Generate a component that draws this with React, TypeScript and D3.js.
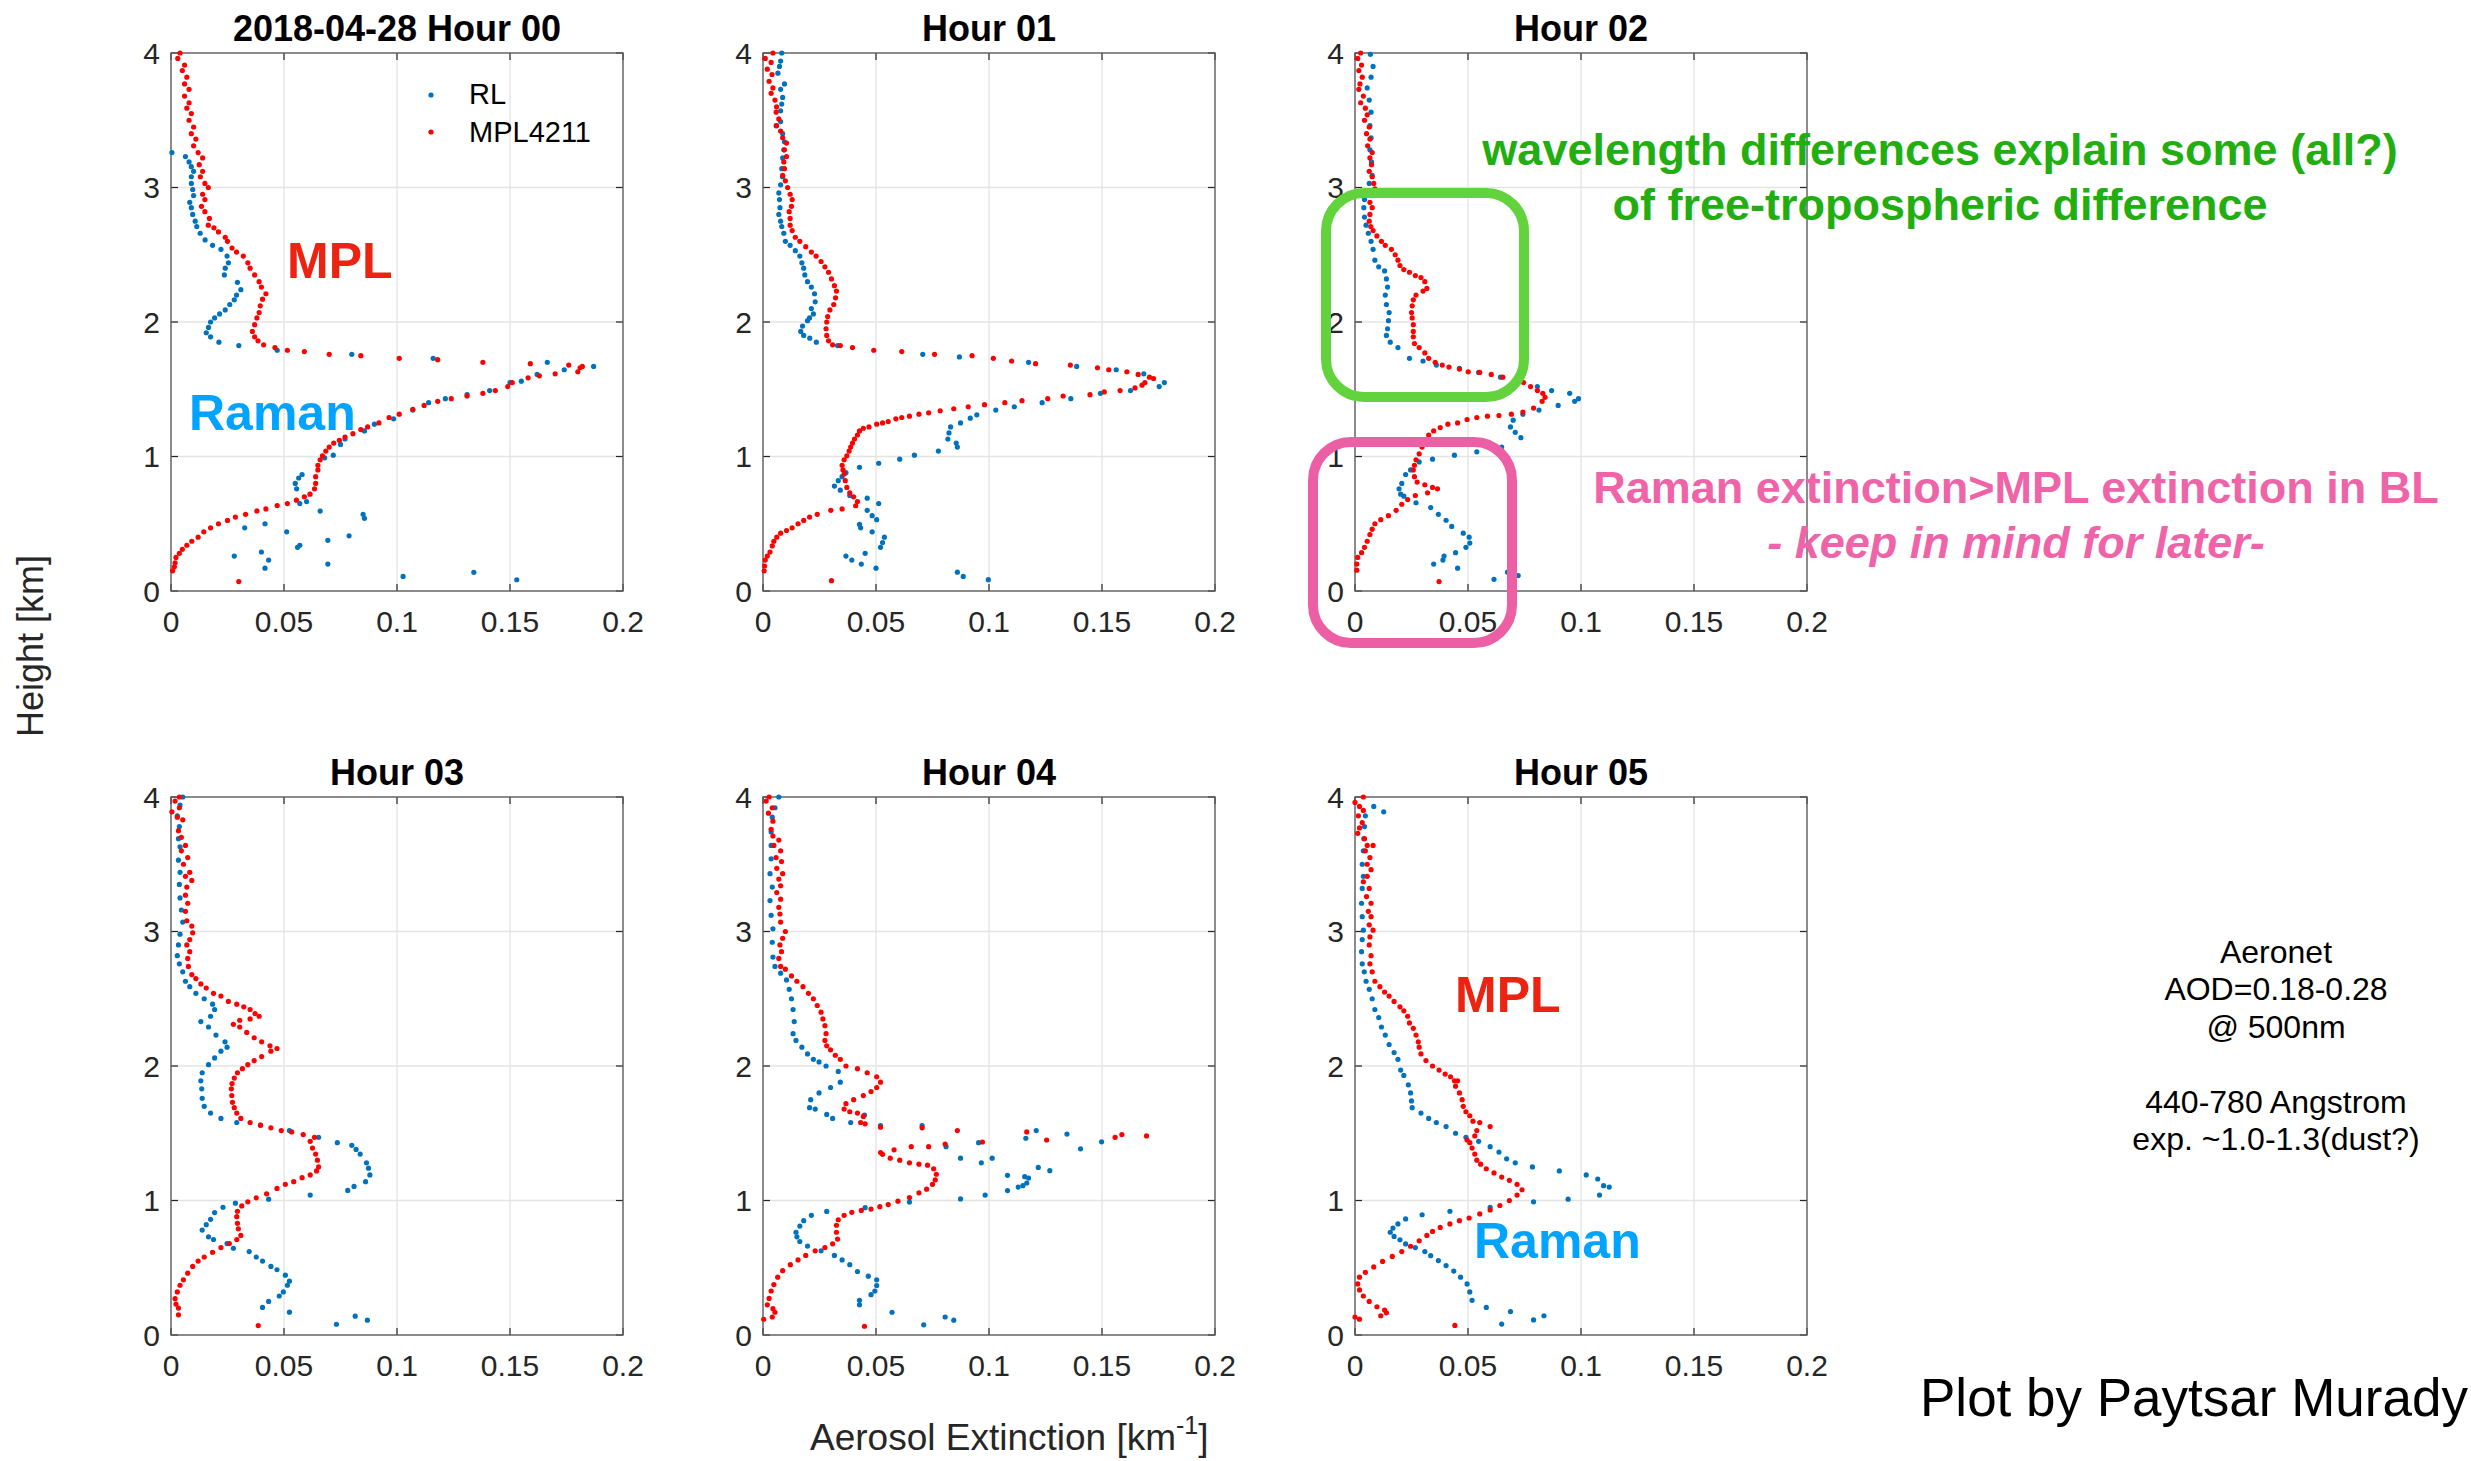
import React from 'react';
import * as d3 from 'd3';

// ---------- axis ticks / labels ----------
const xTickValues = [0, 0.05, 0.1, 0.15, 0.2];
const xTickLabels = ['0', '0.05', '0.1', '0.15', '0.2'];
const yTickValues = [0, 1, 2, 3, 4];
const yTickLabels = ['0', '1', '2', '3', '4'];
const panelTitles = ['2018-04-28 Hour 00', 'Hour 01', 'Hour 02', 'Hour 03', 'Hour 04', 'Hour 05'];
const seriesNames = ['RL', 'MPL4211'];

// ---------- data: [height km, extinction km^-1] ----------
const mpl00 = [[4.0,.004],[3.96,.003],[3.91,.006],[3.87,.005],[3.82,.007],[3.77,.006],[3.73,.008],[3.68,.006],[3.63,.008],[3.59,.007],[3.55,.009],[3.50,.008],[3.45,.010],[3.40,.009],[3.36,.011],[3.31,.010],[3.26,.012],[3.22,.014],[3.17,.0125],[3.12,.014],[3.08,.013],[3.03,.015],[3.00,.0165],[2.95,.014],[2.91,.015],[2.86,.0135],[2.82,.015],[2.77,.017],[2.72,.0165],[2.70,.019],[2.67,.021],[2.63,.024],[2.60,.025],[2.55,.027],[2.52,.029],[2.49,.032],[2.44,.034],[2.40,.035],[2.35,.037],[2.30,.039],[2.26,.040],[2.21,.042],[2.17,.0405],[2.12,.0395],[2.07,.039],[2.03,.038],[1.98,.037],[1.93,.036],[1.89,.037],[1.86,.0385],[1.83,.041],[1.81,.046],[1.79,.0515],[1.78,.059],[1.76,.070],[1.75,.084],[1.73,.101],[1.72,.118],[1.70,.138],[1.69,.159],[1.68,.176],[1.67,.182],[1.66,.181],[1.63,.180],[1.615,.170],[1.60,.163],[1.585,.158],[1.55,.151],[1.52,.149],[1.49,.1435],[1.47,.138],[1.45,.131],[1.43,.124],[1.41,.118],[1.38,.112],[1.35,.107],[1.315,.101],[1.29,.0965],[1.25,.092],[1.22,.087],[1.20,.084],[1.17,.0805],[1.145,.077],[1.12,.0745],[1.10,.072],[1.07,.070],[1.04,.0685],[1.005,.067],[.975,.066],[.935,.065],[.90,.065],[.85,.064],[.80,.064],[.76,.0635],[.72,.0615],[.70,.059],[.675,.0555],[.65,.0515],[.635,.047],[.61,.042],[.595,.038],[.57,.033],[.55,.0285],[.525,.025],[.50,.021],[.47,.0175],[.44,.0145],[.40,.012],[.37,.0092],[.34,.007],[.31,.005],[.28,.0037],[.25,.0022],[.21,.0018],[.18,.0015],[.15,.0007],[.07,.030]];
const rl00 = [[3.26,.0004],[3.23,.0064],[3.19,.008],[3.155,.009],[3.12,.010],[3.08,.009],[3.03,.009],[2.985,.0096],[2.94,.010],[2.89,.0083],[2.85,.009],[2.80,.0096],[2.75,.0107],[2.71,.0114],[2.66,.0129],[2.61,.0151],[2.57,.0184],[2.54,.0221],[2.49,.0248],[2.44,.0254],[2.40,.024],[2.35,.0236],[2.295,.0294],[2.24,.0309],[2.20,.029],[2.165,.028],[2.13,.026],[2.09,.024],[2.06,.0215],[2.03,.0193],[2.00,.0175],[1.96,.0166],[1.92,.0156],[1.89,.0175],[1.85,.0212],[1.825,.030],[1.79,.047],[1.76,.080],[1.73,.116],[1.70,.1665],[1.67,.187],[1.645,.174],[1.61,.162],[1.56,.155],[1.55,.150],[1.49,.141],[1.46,.131],[1.43,.1214],[1.40,.114],[1.345,.107],[1.28,.0985],[1.24,.090],[1.19,.0856],[1.13,.077],[1.09,.075],[1.01,.0718],[.99,.068],[.866,.058],[.84,.0565],[.80,.055],[.76,.0556],[.665,.060],[.65,.057],[.594,.066],[.57,.085],[.54,.0856],[.50,.0416],[.47,.0326],[.44,.0512],[.41,.0788],[.377,.0694],[.34,.057],[.325,.056],[.29,.040],[.26,.028],[.23,.0432],[.20,.0694],[.17,.0416],[.139,.134],[.108,.1027],[.0835,.153]];

const mpl01 = [[4.0,.0044],[3.96,.001],[3.93,.0036],[3.88,.0019],[3.84,.004],[3.79,.0027],[3.74,.0044],[3.70,.0036],[3.65,.0053],[3.60,.006],[3.56,.0058],[3.51,.007],[3.46,.006],[3.42,.0078],[3.37,.0087],[3.33,.0104],[3.28,.0095],[3.23,.0104],[3.19,.0092],[3.14,.0095],[3.09,.0087],[3.05,.0099],[3.00,.0109],[2.95,.012],[2.91,.0129],[2.86,.0126],[2.82,.0116],[2.77,.012],[2.72,.012],[2.68,.0129],[2.63,.0143],[2.60,.0163],[2.56,.0189],[2.52,.0214],[2.49,.0235],[2.45,.0257],[2.41,.0274],[2.37,.029],[2.32,.0303],[2.27,.0316],[2.23,.0325],[2.18,.0321],[2.13,.0313],[2.09,.0296],[2.04,.0286],[2.00,.0282],[1.95,.0279],[1.90,.0282],[1.86,.029],[1.83,.0308],[1.825,.0342],[1.81,.0396],[1.79,.049],[1.78,.0614],[1.76,.0759],[1.75,.0925],[1.73,.1019],[1.71,.110],[1.69,.1206],[1.68,.136],[1.66,.148],[1.645,.153],[1.63,.161],[1.61,.166],[1.59,.171],[1.58,.1728],[1.55,.169],[1.53,.1677],[1.51,.1646],[1.49,.158],[1.48,.151],[1.46,.1447],[1.45,.1328],[1.43,.126],[1.415,.1146],[1.40,.107],[1.385,.098],[1.37,.0908],[1.355,.0844],[1.34,.0784],[1.325,.0733],[1.315,.069],[1.30,.0648],[1.29,.0614],[1.28,.0588],[1.26,.0554],[1.25,.0529],[1.24,.0503],[1.22,.0469],[1.21,.0444],[1.19,.0427],[1.16,.0418],[1.13,.0405],[1.10,.0396],[1.07,.0388],[1.04,.0381],[1.005,.0371],[.975,.0359],[.935,.035],[.90,.0354],[.87,.0359],[.82,.0364],[.77,.0371],[.73,.0384],[.70,.0401],[.665,.0418],[.634,.041],[.61,.035],[.60,.030],[.57,.024],[.55,.0206],[.525,.018],[.50,.0155],[.47,.0129],[.45,.0104],[.43,.0078],[.40,.0061],[.37,.0048],[.335,.0041],[.29,.0031],[.26,.0019],[.23,.001],[.186,.0007],[.15,.0005],[.077,.0303]];
const rl01 = [[4.0,.0083],[3.94,.0078],[3.90,.0073],[3.85,.0066],[3.77,.0095],[3.73,.0078],[3.67,.0087],[3.62,.0083],[3.57,.0078],[3.49,.0078],[3.46,.0058],[3.40,.0087],[3.34,.0095],[3.28,.0092],[3.22,.0087],[3.14,.0083],[3.08,.0087],[3.02,.0078],[2.96,.007],[2.91,.0073],[2.85,.0075],[2.80,.007],[2.75,.0078],[2.71,.0083],[2.66,.0092],[2.60,.0099],[2.57,.012],[2.53,.0143],[2.49,.0163],[2.44,.0172],[2.40,.018],[2.35,.0185],[2.30,.0197],[2.26,.0214],[2.21,.0228],[2.15,.0231],[2.10,.0214],[2.06,.0223],[2.03,.0206],[2.01,.0197],[1.97,.0175],[1.93,.0167],[1.90,.018],[1.88,.0207],[1.85,.0236],[1.825,.033],[1.76,.0707],[1.74,.0869],[1.70,.1175],[1.67,.1388],[1.645,.1563],[1.615,.1685],[1.55,.1776],[1.52,.1753],[1.49,.1626],[1.47,.1493],[1.43,.1362],[1.40,.1235],[1.37,.1112],[1.345,.103],[1.31,.0946],[1.285,.0917],[1.25,.0874],[1.22,.083],[1.175,.0823],[1.13,.0818],[1.10,.0855],[1.07,.086],[1.04,.0776],[1.01,.067],[.98,.0605],[.95,.0512],[.92,.0427],[.88,.0367],[.85,.035],[.82,.0333],[.78,.0316],[.75,.0342],[.71,.0384],[.69,.0461],[.65,.0512],[.60,.0461],[.56,.0483],[.53,.0503],[.495,.0427],[.47,.0432],[.44,.0483],[.40,.0537],[.36,.0529],[.325,.052],[.28,.0452],[.26,.0367],[.23,.0393],[.20,.0435],[.17,.050],[.14,.086],[.108,.0886],[.084,.0997]];

const mpl02 = [[4.0,.0025],[3.96,.0012],[3.91,.0029],[3.87,.0017],[3.82,.0032],[3.77,.0022],[3.73,.0017],[3.68,.0037],[3.63,.0025],[3.59,.0046],[3.54,.0054],[3.50,.0042],[3.45,.0063],[3.40,.0051],[3.36,.0066],[3.31,.0056],[3.26,.0076],[3.22,.0066],[3.17,.0073],[3.12,.0063],[3.08,.0076],[3.03,.0083],[2.99,.0088],[2.94,.0076],[2.89,.0066],[2.85,.0076],[2.80,.0066],[2.75,.0063],[2.71,.007],[2.68,.008],[2.64,.0097],[2.60,.0117],[2.57,.0134],[2.54,.0161],[2.50,.0178],[2.46,.019],[2.42,.0199],[2.39,.0216],[2.37,.0241],[2.345,.0267],[2.33,.0292],[2.30,.0309],[2.25,.0318],[2.23,.0301],[2.20,.027],[2.165,.0258],[2.12,.0253],[2.07,.025],[2.03,.0253],[1.98,.0258],[1.93,.0258],[1.89,.0258],[1.84,.0263],[1.81,.0284],[1.77,.0309],[1.73,.0326],[1.70,.0355],[1.68,.0386],[1.665,.0416],[1.65,.0462],[1.63,.0501],[1.625,.0552],[1.61,.0603],[1.59,.0654],[1.57,.0709],[1.55,.0746],[1.52,.0777],[1.49,.0807],[1.47,.0831],[1.44,.0841],[1.41,.0828],[1.36,.079],[1.33,.0743],[1.315,.0692],[1.305,.0637],[1.30,.0586],[1.29,.0539],[1.275,.0496],[1.25,.0454],[1.24,.0411],[1.215,.0377],[1.19,.0348],[1.16,.0326],[1.11,.0309],[1.07,.0297],[1.02,.0284],[.975,.027],[.935,.0263],[.90,.0258],[.85,.0263],[.81,.0275],[.79,.0309],[.77,.0343],[.76,.0365],[.73,.0321],[.71,.0267],[.68,.0233],[.645,.0207],[.60,.0182],[.56,.0148],[.53,.0114],[.50,.0088],[.46,.0076],[.42,.0066],[.37,.0054],[.325,.0042],[.285,.0029],[.25,.0012],[.20,.0008],[.155,.0008],[.07,.0372]];
const rl02 = [[3.99,.0068],[3.90,.008],[3.82,.0071],[3.74,.0054],[3.65,.0063],[3.56,.0071],[3.46,.0066],[3.37,.0071],[3.28,.0066],[3.19,.0073],[3.09,.0076],[3.03,.0063],[2.97,.0049],[2.91,.0042],[2.85,.0039],[2.78,.0042],[2.72,.0049],[2.66,.0059],[2.60,.0071],[2.54,.008],[2.46,.0088],[2.41,.0105],[2.38,.0131],[2.32,.0139],[2.26,.0144],[2.20,.0134],[2.13,.0139],[2.07,.0151],[2.01,.0148],[1.95,.0144],[1.90,.0139],[1.85,.0156],[1.81,.019],[1.73,.0241],[1.71,.0301],[1.68,.036],[1.655,.0462],[1.625,.0547],[1.59,.0644],[1.56,.0709],[1.52,.0807],[1.49,.087],[1.47,.095],[1.43,.0989],[1.41,.0972],[1.38,.0899],[1.345,.0814],[1.315,.0743],[1.27,.070],[1.22,.0688],[1.18,.0709],[1.14,.0734],[1.07,.0649],[1.035,.0539],[1.01,.044],[.98,.0343],[.96,.0284],[.90,.0246],[.866,.0224],[.80,.0207],[.76,.0195],[.72,.0202],[.705,.0216],[.656,.027],[.62,.0335],[.57,.0369],[.526,.0403],[.48,.0428],[.43,.0479],[.40,.0505],[.356,.0508],[.325,.0491],[.285,.0445],[.26,.0394],[.23,.0389],[.20,.0348],[.17,.0454],[.14,.0675],[.115,.0722],[.087,.0615]];

const mpl03 = [[4.0,.0037],[3.97,.0018],[3.92,.0037],[3.89,.0004],[3.85,.0028],[3.83,.0052],[3.75,.0033],[3.70,.0046],[3.64,.0064],[3.60,.0046],[3.55,.0074],[3.50,.0055],[3.44,.0083],[3.41,.0064],[3.38,.0092],[3.33,.007],[3.27,.0064],[3.21,.0074],[3.15,.0064],[3.08,.007],[3.04,.0092],[2.99,.0096],[2.94,.0083],[2.90,.007],[2.85,.0083],[2.80,.0074],[2.74,.0077],[2.68,.0092],[2.65,.011],[2.61,.0132],[2.58,.0156],[2.54,.0188],[2.52,.0221],[2.48,.0254],[2.46,.0291],[2.44,.0322],[2.42,.035],[2.39,.0372],[2.37,.039],[2.35,.035],[2.34,.0304],[2.31,.0276],[2.29,.0304],[2.25,.0335],[2.21,.0368],[2.18,.0401],[2.15,.0438],[2.13,.0469],[2.11,.0442],[2.07,.0401],[2.04,.0368],[2.01,.034],[1.98,.0316],[1.95,.0294],[1.91,.028],[1.87,.027],[1.83,.0267],[1.78,.0269],[1.73,.0272],[1.69,.028],[1.65,.0291],[1.61,.0309],[1.58,.035],[1.56,.0396],[1.54,.0442],[1.52,.0488],[1.51,.0534],[1.49,.0585],[1.47,.0635],[1.44,.0616],[1.39,.0626],[1.345,.064],[1.30,.0648],[1.25,.0653],[1.22,.0644],[1.19,.0616],[1.17,.058],[1.14,.0543],[1.12,.0506],[1.09,.0469],[1.05,.0423],[1.02,.0377],[.99,.034],[.96,.0313],[.92,.0294],[.88,.0291],[.83,.0294],[.79,.0298],[.74,.0309],[.71,.0291],[.68,.0258],[.65,.0221],[.615,.0184],[.58,.0147],[.55,.012],[.51,.0096],[.46,.0074],[.41,.0055],[.37,.004],[.32,.0028],[.27,.0018],[.23,.0022],[.20,.0033],[.15,.0033],[.07,.0386]];
const rl03 = [[4.0,.0052],[3.94,.004],[3.86,.0028],[3.78,.0037],[3.69,.0033],[3.63,.004],[3.53,.0033],[3.44,.004],[3.35,.0037],[3.25,.004],[3.16,.0046],[3.07,.0052],[2.98,.004],[2.90,.0033],[2.82,.0028],[2.76,.0037],[2.70,.0052],[2.63,.0064],[2.59,.0083],[2.54,.011],[2.50,.0147],[2.46,.0184],[2.42,.0193],[2.37,.0175],[2.33,.0132],[2.29,.0166],[2.23,.0199],[2.18,.0239],[2.14,.0248],[2.11,.0221],[2.06,.0193],[2.01,.0166],[1.95,.0138],[1.89,.0132],[1.83,.0136],[1.76,.0138],[1.70,.0147],[1.65,.0175],[1.61,.0221],[1.58,.0291],[1.56,.0396],[1.52,.0524],[1.47,.0653],[1.43,.0736],[1.41,.080],[1.38,.0819],[1.345,.0837],[1.28,.0865],[1.24,.0874],[1.19,.088],[1.14,.0861],[1.105,.081],[1.075,.0782],[1.04,.0616],[1.01,.0432],[.98,.0285],[.95,.023],[.91,.0193],[.86,.0175],[.82,.0156],[.78,.0138],[.73,.0166],[.71,.0188],[.68,.0248],[.645,.0276],[.62,.0346],[.58,.0377],[.55,.0405],[.51,.0442],[.485,.0469],[.445,.0506],[.40,.0524],[.37,.0515],[.32,.0497],[.29,.0479],[.25,.0432],[.205,.0405],[.17,.0524],[.14,.0815],[.11,.0869],[.08,.0732]];

const mpl04 = [[4.0,.0027],[3.97,.0014],[3.92,.0041],[3.88,.0024],[3.82,.0044],[3.76,.0036],[3.71,.0044],[3.68,.007],[3.64,.0048],[3.60,.0078],[3.55,.0058],[3.52,.0082],[3.47,.0061],[3.43,.0087],[3.39,.007],[3.34,.0078],[3.29,.0061],[3.24,.0078],[3.18,.007],[3.13,.0075],[3.07,.0078],[3.00,.0099],[2.95,.0087],[2.90,.0075],[2.85,.0082],[2.80,.007],[2.74,.0078],[2.72,.0099],[2.67,.0126],[2.63,.015],[2.59,.0177],[2.54,.0201],[2.50,.0223],[2.45,.024],[2.40,.0257],[2.35,.0265],[2.30,.0274],[2.24,.0279],[2.19,.0274],[2.15,.0282],[2.12,.0299],[2.08,.032],[2.05,.0342],[2.00,.0367],[1.98,.0418],[1.95,.0461],[1.92,.0503],[1.88,.052],[1.84,.0503],[1.81,.0478],[1.78,.0444],[1.75,.0401],[1.72,.0367],[1.68,.0359],[1.66,.0384],[1.65,.0418],[1.625,.0444],[1.58,.0432],[1.57,.0452],[1.545,.052],[1.54,.0704],[1.52,.086],[1.51,.1167],[1.49,.1588],[1.48,.1697],[1.47,.1558],[1.45,.1255],[1.435,.0971],[1.42,.0806],[1.40,.0733],[1.40,.0656],[1.377,.058],[1.356,.052],[1.343,.0529],[1.315,.0563],[1.30,.0605],[1.28,.0648],[1.27,.069],[1.263,.0728],[1.236,.0755],[1.195,.0767],[1.153,.0762],[1.12,.075],[1.084,.0724],[1.057,.069],[1.022,.0648],[.995,.0597],[.97,.0554],[.954,.0517],[.936,.0478],[.926,.0435],[.912,.0393],[.89,.0359],[.857,.0333],[.816,.0325],[.764,.0325],[.713,.033],[.678,.0308],[.65,.0274],[.626,.0231],[.592,.0189],[.558,.0155],[.523,.0121],[.478,.0087],[.43,.0065],[.375,.0048],[.327,.0036],[.272,.0027],[.224,.0019],[.196,.0044],[.169,.0053],[.134,.0041],[.117,.0003],[.065,.0449]];
const rl04 = [[4.0,.007],[3.92,.0053],[3.85,.0041],[3.74,.0036],[3.64,.0036],[3.54,.0036],[3.43,.0031],[3.33,.0041],[3.23,.0031],[3.12,.0036],[3.02,.0044],[2.92,.0041],[2.81,.0044],[2.74,.0053],[2.69,.0078],[2.64,.0104],[2.57,.0116],[2.50,.0126],[2.42,.0133],[2.33,.0138],[2.24,.0133],[2.19,.0146],[2.14,.0172],[2.09,.0197],[2.05,.0223],[2.03,.0248],[2.00,.0279],[1.96,.0333],[1.88,.0342],[1.84,.0299],[1.80,.0248],[1.75,.0211],[1.69,.0206],[1.68,.0231],[1.64,.0282],[1.635,.0449],[1.61,.0308],[1.58,.0388],[1.556,.052],[1.556,.0704],[1.52,.1209],[1.494,.1345],[1.463,.1163],[1.436,.1498],[1.43,.0954],[1.40,.081],[1.384,.1405],[1.315,.0874],[1.315,.1014],[1.28,.0966],[1.246,.1218],[1.222,.1269],[1.187,.1082],[1.177,.1158],[1.167,.1175],[1.13,.1167],[1.11,.115],[1.10,.1129],[1.074,.1082],[1.04,.0983],[1.012,.0874],[.988,.0648],[.947,.0452],[.919,.0282],[.89,.0214],[.85,.018],[.81,.0163],[.764,.0146],[.73,.015],[.695,.0163],[.661,.0197],[.626,.0257],[.592,.0316],[.558,.035],[.523,.0384],[.472,.0418],[.437,.0466],[.41,.0503],[.368,.0503],[.327,.0495],[.30,.0478],[.258,.0427],[.224,.0427],[.169,.0571],[.134,.0806],[.11,.0844],[.076,.0711]];

const mpl05 = [[4.0,.0037],[3.96,0],[3.93,.002],[3.90,.0037],[3.86,.0015],[3.81,.0032],[3.77,.002],[3.73,.0012],[3.69,.0042],[3.64,.0054],[3.64,.008],[3.60,.0046],[3.55,.0066],[3.50,.0054],[3.46,.0071],[3.41,.0054],[3.37,.0037],[3.32,.0063],[3.26,.0051],[3.21,.0071],[3.15,.0059],[3.11,.0071],[3.05,.0063],[3.01,.008],[2.96,.0066],[2.90,.0063],[2.82,.0071],[2.76,.0066],[2.70,.0076],[2.63,.0088],[2.59,.011],[2.55,.0131],[2.52,.0151],[2.48,.0173],[2.44,.0199],[2.41,.0216],[2.37,.0233],[2.32,.0241],[2.28,.0258],[2.23,.027],[2.18,.028],[2.14,.0284],[2.09,.0292],[2.04,.0314],[2.00,.0343],[1.97,.0372],[1.94,.0399],[1.92,.0423],[1.89,.044],[1.89,.0454],[1.85,.0445],[1.80,.0462],[1.75,.0474],[1.70,.0479],[1.66,.0491],[1.63,.0508],[1.59,.0522],[1.58,.0552],[1.55,.0598],[1.52,.0539],[1.48,.053],[1.45,.0496],[1.43,.0508],[1.39,.0518],[1.345,.053],[1.30,.0539],[1.27,.0556],[1.236,.0581],[1.205,.0615],[1.174,.0649],[1.15,.0683],[1.12,.0717],[1.08,.0739],[1.04,.0717],[1.00,.0683],[.963,.0641],[.93,.0598],[.90,.0552],[.87,.0505],[.85,.0462],[.826,.042],[.80,.0377],[.77,.0343],[.74,.0318],[.70,.0284],[.66,.0246],[.62,.0207],[.584,.0165],[.547,.0122],[.506,.0083],[.466,.0046],[.43,.002],[.38,.0012],[.335,.002],[.29,.0037],[.25,.0063],[.21,.0097],[.186,.0131],[.165,.0139],[.143,.0114],[.134,0],[.118,.002],[.071,.0442]];
const rl05 = [[3.93,.0083],[3.89,.0127],[3.86,.0046],[3.78,.0042],[3.69,.0039],[3.60,.0037],[3.50,.0032],[3.41,.0037],[3.32,.0032],[3.21,.0029],[3.11,.0032],[3.01,.0037],[2.94,.0032],[2.85,.0029],[2.76,.0032],[2.70,.0041],[2.63,.0049],[2.57,.0063],[2.50,.0076],[2.42,.0088],[2.36,.0105],[2.29,.0117],[2.23,.0134],[2.16,.0151],[2.10,.0173],[2.05,.019],[1.97,.0202],[1.93,.0216],[1.86,.0236],[1.80,.0246],[1.74,.025],[1.69,.0253],[1.65,.0292],[1.61,.0326],[1.58,.036],[1.55,.0403],[1.50,.0445],[1.47,.0491],[1.44,.0547],[1.40,.0598],[1.36,.0637],[1.31,.0671],[1.28,.0709],[1.25,.0785],[1.22,.0904],[1.19,.1023],[1.16,.1074],[1.11,.110],[1.10,.1125],[1.04,.1082],[1.01,.0943],[.99,.079],[.95,.0598],[.92,.042],[.894,.0297],[.863,.0224],[.826,.019],[.795,.0168],[.764,.0156],[.733,.0173],[.708,.0199],[.677,.0224],[.65,.0267],[.62,.0309],[.59,.0335],[.553,.0369],[.516,.0403],[.475,.0437],[.43,.0467],[.38,.0496],[.32,.0508],[.258,.0518],[.205,.0581],[.174,.0688],[.143,.0836],[.112,.079],[.081,.0649]];

const rlSeries = [rl00, rl01, rl02, rl03, rl04, rl05];
const mplSeries = [mpl00, mpl01, mpl02, mpl03, mpl04, mpl05];

const noteGreen = ['wavelength differences explain some (all?)', 'of free-tropospheric difference'];
const notePink = ['Raman extinction>MPL extinction in BL', '- keep in mind for later-'];
const noteAeronet = ['Aeronet', 'AOD=0.18-0.28', '@ 500nm', '', '440-780 Angstrom', 'exp. ~1.0-1.3(dust?)'];
const creditText = 'Plot by Paytsar Murady';

// ---------- layout ----------
const WIDTH = 2471;
const HEIGHT = 1461;
const PW = 452;
const PH = 538;
const colX = [171, 763, 1355];
const rowY = [53, 797];
const FONT = '"Liberation Sans", Arial, Helvetica, sans-serif';
const BLUE = '#0072BD';
const RED = '#FF0000';
const AXIS = '#262626';

const xScale = d3.scaleLinear().domain([0, 0.2]).range([0, PW]);
const yScale = d3.scaleLinear().domain([0, 4]).range([PH, 0]);

function Panel({ idx }: { idx: number }) {
  const x0 = colX[idx % 3];
  const y0 = rowY[Math.floor(idx / 3)];
  const tick = 7;
  return (
    <g transform={`translate(${x0},${y0})`}>
      <rect x={0} y={0} width={PW} height={PH} fill="#ffffff" />
      {xTickValues.slice(1, -1).map((v) => (
        <line key={'gx' + v} x1={xScale(v)} x2={xScale(v)} y1={0} y2={PH} stroke="#e4e4e4" strokeWidth={1.3} />
      ))}
      {yTickValues.slice(1, -1).map((v) => (
        <line key={'gy' + v} x1={0} x2={PW} y1={yScale(v)} y2={yScale(v)} stroke="#e4e4e4" strokeWidth={1.3} />
      ))}
      {xTickValues.map((v) => (
        <g key={'tx' + v}>
          <line x1={xScale(v)} x2={xScale(v)} y1={PH} y2={PH - tick} stroke={AXIS} strokeWidth={1.2} />
          <line x1={xScale(v)} x2={xScale(v)} y1={0} y2={tick} stroke={AXIS} strokeWidth={1.2} />
        </g>
      ))}
      {yTickValues.map((v) => (
        <g key={'ty' + v}>
          <line x1={0} x2={tick} y1={yScale(v)} y2={yScale(v)} stroke={AXIS} strokeWidth={1.2} />
          <line x1={PW} x2={PW - tick} y1={yScale(v)} y2={yScale(v)} stroke={AXIS} strokeWidth={1.2} />
        </g>
      ))}
      <rect x={0} y={0} width={PW} height={PH} fill="none" stroke="#5a5a5a" strokeWidth={1.4} />
      {xTickValues.map((v, i) => (
        <text key={'lx' + v} x={xScale(v)} y={PH + 41} textAnchor="middle" fontSize={30} fill={AXIS} fontFamily={FONT}>
          {xTickLabels[i]}
        </text>
      ))}
      {yTickValues.map((v, i) => (
        <text key={'ly' + v} x={-11} y={yScale(v) + 10.5} textAnchor="end" fontSize={30} fill={AXIS} fontFamily={FONT}>
          {yTickLabels[i]}
        </text>
      ))}
      <text x={PW / 2} y={-12.5} textAnchor="middle" fontSize={36} fontWeight="bold" fill="#000" fontFamily={FONT}>
        {panelTitles[idx]}
      </text>
      {rlSeries[idx].map((d, i) => (
        <circle key={'rl' + i} cx={xScale(d[1])} cy={yScale(d[0])} r={2.6} fill={BLUE} />
      ))}
      {mplSeries[idx].map((d, i) => (
        <circle key={'mp' + i} cx={xScale(d[1])} cy={yScale(d[0])} r={2.6} fill={RED} />
      ))}
      {idx === 0 && (
        <g>
          <circle cx={260} cy={42} r={2.6} fill={BLUE} />
          <text x={298} y={51} fontSize={29} fill="#000" fontFamily={FONT}>{seriesNames[0]}</text>
          <circle cx={260} cy={79} r={2.6} fill={RED} />
          <text x={298} y={89} fontSize={29} fill="#000" fontFamily={FONT}>{seriesNames[1]}</text>
        </g>
      )}
    </g>
  );
}

export default function App() {
  return (
    <svg
      width={WIDTH}
      height={HEIGHT}
      viewBox={`0 0 ${WIDTH} ${HEIGHT}`}
      style={{ position: 'absolute', left: 0, top: 0, background: '#ffffff' }}
    >
      <rect x={0} y={0} width={WIDTH} height={HEIGHT} fill="#ffffff" />
      {[0, 1, 2, 3, 4, 5].map((i) => (
        <Panel key={i} idx={i} />
      ))}

      {/* axis labels */}
      <text x={43} y={646} transform="rotate(-90 43 646)" textAnchor="middle" fontSize={36} fill={AXIS} fontFamily={FONT}>
        Height [km]
      </text>
      <text x={810} y={1450} fontSize={37} fill={AXIS} fontFamily={FONT}>
        Aerosol Extinction [km
        <tspan fontSize={25} dy={-16}>-1</tspan>
        <tspan dy={16}>]</tspan>
      </text>

      {/* in-plot labels */}
      <text x={287} y={278} fontSize={50} fontWeight="bold" fill="#EC2310" fontFamily={FONT}>MPL</text>
      <text x={189} y={430} fontSize={50} fontWeight="bold" fill="#00A3FF" fontFamily={FONT}>Raman</text>
      <text x={1455} y={1012} fontSize={50} fontWeight="bold" fill="#EC2310" fontFamily={FONT}>MPL</text>
      <text x={1474} y={1258} fontSize={50} fontWeight="bold" fill="#00A3FF" fontFamily={FONT}>Raman</text>

      {/* annotation boxes */}
      <rect x={1326} y={193} width={198} height={204} rx={38} ry={38} fill="none" stroke="#62D33C" strokeWidth={10} />
      <rect x={1313} y={442} width={199} height={201} rx={38} ry={38} fill="none" stroke="#EC5FA5" strokeWidth={10} />

      {/* annotation texts */}
      <text x={1940} y={165} textAnchor="middle" fontSize={45} fontWeight="bold" fill="#22AE10" fontFamily={FONT}>{noteGreen[0]}</text>
      <text x={1940} y={220} textAnchor="middle" fontSize={45} fontWeight="bold" fill="#22AE10" fontFamily={FONT}>{noteGreen[1]}</text>
      <text x={2016} y={503} textAnchor="middle" fontSize={45} fontWeight="bold" fill="#EF64A9" fontFamily={FONT}>{notePink[0]}</text>
      <text x={2016} y={558} textAnchor="middle" fontSize={45} fontWeight="bold" fontStyle="italic" fill="#EF64A9" fontFamily={FONT}>{notePink[1]}</text>

      {noteAeronet.map((t, i) => (
        <text key={'ae' + i} x={2276} y={963 + i * 37.4} textAnchor="middle" fontSize={32} fill="#000" fontFamily={FONT}>{t}</text>
      ))}

      <text x={1920} y={1416} fontSize={53} fill="#000" fontFamily={FONT}>{creditText}</text>
    </svg>
  );
}
